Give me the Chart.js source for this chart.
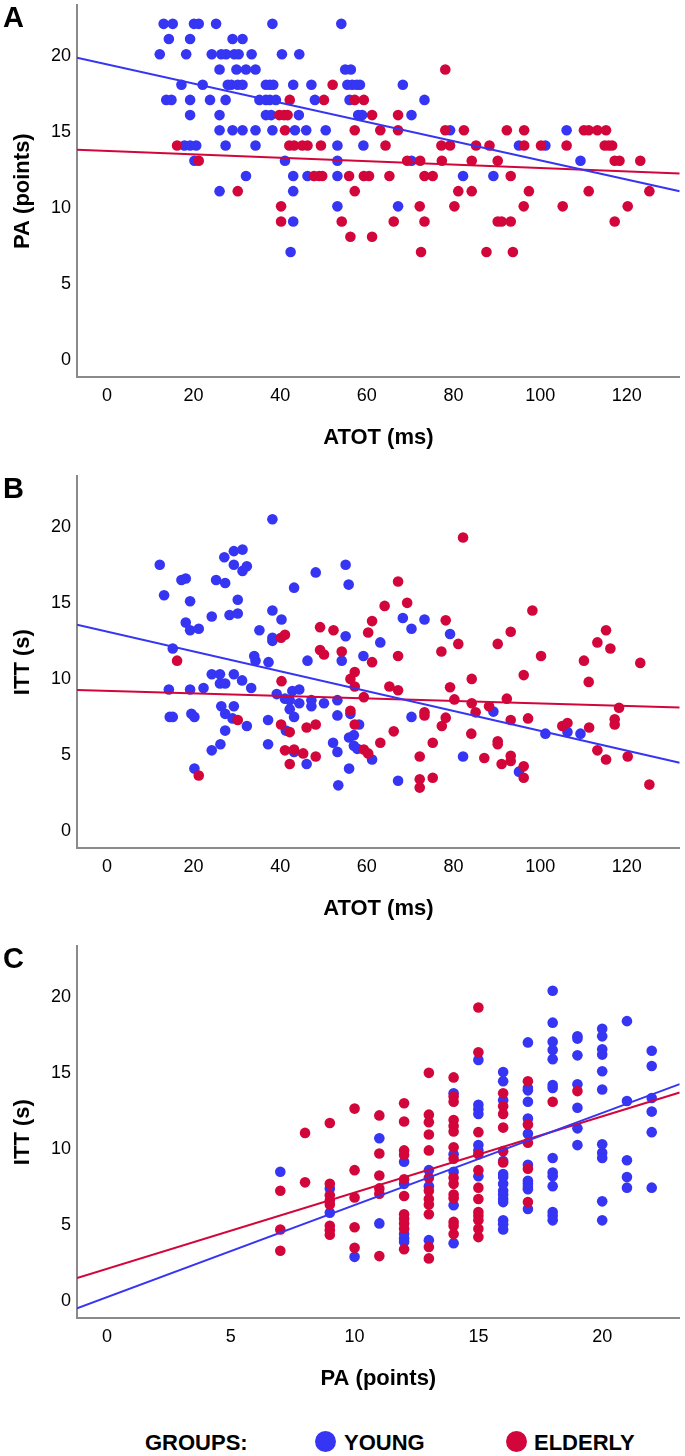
<!DOCTYPE html>
<html>
<head>
<meta charset="utf-8">
<script src="https://cdn.jsdelivr.net/npm/chart.js@4.4.0/dist/chart.umd.min.js"></script>
<style>
  html, body { margin: 0; padding: 0; background: #fff; }
  body { width: 685px; height: 1456px; position: relative; overflow: hidden; font-family: "Liberation Sans", Arial, sans-serif; }
  .panel { position: absolute; left: 0; width: 685px; height: 470px; }
  .letter { position: absolute; left: 3px; top: 3px; font-weight: bold; font-size: 29px; line-height: 29px; color: #000; }
  .lg { position: absolute; top: 1432px; font-weight: bold; font-size: 22px; line-height: 22px; color: #000; white-space: nowrap; }
  .dot { position: absolute; top: 1431px; width: 21px; height: 21px; border-radius: 50%; }
</style>
</head>
<body>
<div class="panel" style="top:0"><canvas id="chartA" width="685" height="470"></canvas><div class="letter">A</div></div>
<div class="panel" style="top:471px"><canvas id="chartB" width="685" height="470"></canvas><div class="letter">B</div></div>
<div class="panel" style="top:941px"><canvas id="chartC" width="685" height="470"></canvas><div class="letter">C</div></div>

<span class="lg" style="left:145px">GROUPS:</span>
<span class="dot" style="left:315px;background:#3535f3"></span>
<span class="lg" style="left:344px">YOUNG</span>
<span class="dot" style="left:506px;background:#d2063b"></span>
<span class="lg" style="left:534px">ELDERLY</span>

<script>
const BLUE = '#3535f3';
const RED = '#d2063b';
const AXIS = '#8a8a8a';
const FONT = '"Liberation Sans", Arial, sans-serif';

// axis ranges and ticks
const atotRange = [-6.9, 132.2];
const paRange = [-1.21, 23.13];
const yRange = [-1.22, 23.22];
const atotTicks = [0, 20, 40, 60, 80, 100, 120];
const paTicks = [0, 5, 10, 15, 20];
const yTicks = [0, 5, 10, 15, 20];

// A: PA vs ATOT
const aYoungX = [
  13.1,15.2,20.1,21.2,25.2,38.2,54.1,
  14.3,19.2,29.0,31.3,
  12.2,18.3,24.2,26.4,27.5,29.4,30.4,33.4,40.4,44.4,
  26.0,29.9,32.1,34.3,55.0,56.3,
  17.2,22.1,27.9,28.7,30.2,31.3,36.7,37.6,38.4,43.0,47.2,55.5,56.6,57.7,58.4,68.3,
  13.7,14.9,19.2,23.8,27.4,35.2,36.7,37.6,39.0,48.0,56.0,73.3,
  19.2,26.0,36.7,37.9,44.3,58.0,58.9,70.3,
  26.0,29.0,31.3,34.3,38.2,43.4,46.0,50.5,79.2,106.1,
  17.9,19.2,20.6,27.4,34.3,53.2,59.2,95.1,101.2,
  20.2,41.1,53.2,70.3,109.3,
  32.1,43.0,46.3,53.2,82.2,89.2,
  26.0,43.0,
  53.2,67.2,
  43.0,
  42.4
];
const aYoungY = [
  22,22,22,22,22,22,22,
  21,21,21,21,
  20,20,20,20,20,20,20,20,20,20,
  19,19,19,19,19,19,
  18,18,18,18,18,18,18,18,18,18,18,18,18,18,18,18,
  17,17,17,17,17,17,17,17,17,17,17,17,
  16,16,16,16,16,16,16,16,
  15,15,15,15,15,15,15,15,15,15,
  14,14,14,14,14,14,14,14,14,
  13,13,13,13,13,
  12,12,12,12,12,12,
  11,11,
  10,10,
  9,
  7
];
const aElderX = [
  78.1,
  52.1,
  42.2,50.1,57.2,59.3,
  39.8,40.9,41.7,61.2,67.2,
  41.1,57.2,63.1,67.2,78.1,82.4,92.3,96.3,110.1,111.2,113.2,115.2,
  16.2,42.1,43.2,45.1,46.3,49.4,64.3,77.2,79.2,85.2,88.3,96.3,100.2,106.1,114.9,115.8,116.6,
  21.2,69.3,72.3,77.3,84.2,90.2,117.2,118.3,123.1,
  47.8,49.0,49.7,55.9,59.3,60.5,65.2,73.3,75.2,93.2,
  30.2,57.2,81.1,84.2,97.4,111.2,125.2,
  40.2,72.2,80.2,96.2,105.2,120.2,
  40.2,54.2,66.2,73.3,90.2,91.1,93.2,117.2,
  56.2,61.2,
  72.5,87.6,93.7
];
const aElderY = [
  19,
  18,
  17,17,17,17,
  16,16,16,16,16,
  15,15,15,15,15,15,15,15,15,15,15,15,
  14,14,14,14,14,14,14,14,14,14,14,14,14,14,14,14,14,
  13,13,13,13,13,13,13,13,13,
  12,12,12,12,12,12,12,12,12,12,
  11,11,11,11,11,11,11,
  10,10,10,10,10,10,
  9,9,9,9,9,9,9,9,
  8,8,
  7,7,7
];

// B: ITT vs ATOT
const bYoungX = [
  12.2,13.2,17.2,18.2,19.2,18.2,19.2,21.2,15.2,24.2,
  25.2,27.3,28.3,30.2,30.2,27.1,29.3,31.3,29.3,31.3,
  32.3,38.2,35.2,38.2,40.3,43.2,38.2,38.2,34.0,34.3,
  37.3,46.3,48.2,55.1,55.8,55.1,54.2,14.3,19.2,22.3,
  24.2,26.1,26.1,27.3,29.3,31.2,33.3,26.4,29.3,39.2,
  41.1,42.2,42.8,44.4,44.4,47.2,47.2,50.1,53.2,14.5,
  15.2,19.5,20.2,27.3,29.0,32.3,27.3,26.2,24.2,20.2,
  37.2,37.2,42.2,43.2,41.3,43.2,46.1,53.2,52.2,53.2,
  53.4,55.9,55.9,56.2,58.2,57.0,57.0,57.8,61.2,70.3,
  67.2,82.2,89.2,101.2,106.3,109.3,95.1,59.2,63.1,68.3,
  70.3,73.3,79.2
];
const bYoungY = [
  17.4,15.4,16.4,16.5,15.0,13.6,13.1,13.2,11.9,14.0,
  16.4,16.2,14.1,14.2,15.1,17.9,18.3,18.4,17.4,17.0,
  17.3,20.4,13.1,14.4,13.8,15.9,12.6,12.4,11.4,11.1,
  11.0,11.1,16.9,17.4,16.1,12.7,11.1,9.2,9.2,9.3,
  10.2,10.2,9.6,9.6,10.2,9.8,9.3,8.1,8.1,8.9,
  8.6,8.5,9.1,9.2,8.3,8.5,8.1,8.3,8.5,7.4,
  7.4,7.6,7.4,7.6,7.3,6.8,6.5,5.6,5.2,4.0,
  7.2,5.6,7.9,7.4,6.5,5.1,4.3,7.5,5.7,5.1,
  2.9,6.05,4.0,7.6,6.9,6.2,5.5,5.3,4.6,7.4,
  3.2,4.8,7.75,6.3,6.4,6.3,3.8,11.4,12.3,13.9,
  13.2,13.8,12.85
];
const bElderX = [
  16.2,40.2,41.1,49.2,52.3,49.2,50.1,54.2,40.3,30.2,
  21.2,40.2,42.2,46.1,48.2,41.1,43.2,45.3,48.2,42.2,
  56.2,57.2,59.3,60.3,63.1,66.2,72.2,72.2,72.2,75.2,
  75.2,73.3,73.3,77.3,78.2,84.1,85.1,90.2,90.2,87.1,
  91.1,93.2,93.2,96.2,96.2,93.2,97.2,105.1,106.3,111.3,
  113.2,115.2,120.2,117.2,117.2,118.2,125.2,56.2,57.2,57.2,
  59.3,60.3,61.2,61.2,64.1,67.2,69.3,67.2,65.2,67.2,
  77.2,78.2,81.1,82.2,79.2,80.2,84.2,84.2,88.2,90.2,
  93.2,92.3,96.2,98.2,100.2,110.1,111.2,113.2,115.2,116.2,
  123.1
];
const bElderY = [
  11.1,12.6,12.8,13.3,13.1,11.8,11.5,11.7,9.75,7.2,
  3.55,6.9,6.4,6.7,6.9,5.2,5.25,5.0,4.8,4.3,
  7.8,6.9,5.25,5.0,5.7,6.45,4.8,3.3,2.75,3.4,
  5.7,7.7,7.5,6.8,7.35,6.3,7.7,5.8,5.6,4.7,
  4.3,4.85,4.5,4.15,3.4,7.2,7.3,6.8,7.0,6.7,
  5.2,4.6,4.8,7.25,6.9,8.0,2.95,9.9,10.35,9.4,
  8.7,12.95,13.7,11.0,14.7,16.3,14.9,11.4,9.4,9.15,
  11.7,13.75,12.2,19.2,9.35,8.55,9.9,8.3,8.1,12.2,
  13.0,8.6,10.15,14.4,11.4,11.1,9.7,12.3,13.1,11.9,
  10.95
];

// C: ITT vs PA
const cYoungX = [
  7, 9,9, 10, 11,11, 12,12,12,12,12, 13,13,13, 14,14,14,14,14,
  15,15,15,15,15,15,15,
  16,16,16,16,16,16,16,16,16,16,16,16,16,16,
  17,17,17,17,17,17,17,17,17,17,17,17,
  18,18,18,18,18,18,18,18,18,18,18,18,18,18,
  19,19,19,19,19,19,19,
  20,20,20,20,20,20,20,20,20,20,20,
  21,21,21,21,21,
  22,22,22,22,22,22
];
const cYoungY = [
  8.4, 7.3,5.7, 2.8, 10.6,5.0, 9.05,7.6,4.3,4.0,3.8, 8.5,7.45,3.9, 13.55,9.55,8.4,6.2,3.7,
  15.75,12.8,12.5,12.2,10.15,9.8,8.1,
  14.95,14.35,13.1,9.1,8.25,8.05,7.6,7.15,6.9,6.6,6.4,5.2,4.95,4.6,
  16.9,13.9,13.75,13.0,11.9,10.9,8.85,7.8,7.6,7.4,7.25,5.95,
  20.3,18.2,16.95,16.4,15.8,14.1,13.9,9.3,8.35,8.1,7.45,5.75,5.5,5.2,
  17.3,17.15,16.05,14.15,12.6,11.25,10.15,
  17.8,17.3,16.45,16.1,15.0,13.8,10.2,9.65,9.3,6.45,5.2,
  18.3,13.05,9.15,8.05,7.35,
  16.35,15.35,13.25,12.35,11.0,7.35
];
const cElderX = [
  7,7,7, 8,8,
  9,9,9,9,9,9,9,9,
  10,10,10,10,10,
  11,11,11,11,11,11,
  12,12,12,12,12,12,12,12,12,12,12,
  13,13,13,13,13,13,13,13,13,13,13,13,
  14,14,14,14,14,14,14,14,14,14,14,14,14,14,14,
  15,15,15,15,15,15,15,15,15,15,15,15,
  16,16,16,16,16,16,
  17,17,17,17,17,
  18, 19
];
const cElderY = [
  7.15,4.6,3.2, 10.95,7.7,
  11.6,7.6,6.85,6.5,6.25,4.85,4.55,4.25,
  12.55,8.5,6.7,4.75,3.4,
  12.1,9.6,8.15,7.3,6.95,2.85,
  12.9,11.7,9.8,9.5,7.9,6.8,5.6,5.3,5.0,4.65,3.3,
  14.9,12.15,11.65,10.85,9.8,8.0,7.15,6.6,6.25,5.6,3.45,2.7,
  14.6,13.35,13.0,11.8,11.4,11.05,10.0,9.25,8.0,7.6,6.9,6.65,5.1,4.85,4.3,
  19.2,16.25,11.0,9.55,8.5,7.35,6.6,5.75,5.5,5.2,4.65,4.1,
  13.55,12.7,12.2,11.3,9.75,9.0,
  14.35,11.5,10.3,8.6,6.4,
  13.0, 13.7
];

// fit lines: y at the left and right ends of the x axis
const fitAYoung = [19.78, 11.0];
const fitAElder = [13.73, 12.16];
const fitBYoung = [13.46, 4.38];
const fitBElder = [9.17, 8.01];
const fitCYoung = [-0.59, 14.16];
const fitCElder = [1.41, 13.61];

Chart.defaults.font.family = FONT;

function makePanel(id, youngX, youngY, elderX, elderY, fitYoung, fitElder, xRange, xTicks, xTitle, yTitle) {
  const pts = (xs, ys) => xs.map((x, i) => ({ x: x, y: ys[i] }));
  const fit = f => [{ x: xRange[0], y: f[0] }, { x: xRange[1], y: f[1] }];
  const lineSet = (label, f, color) => ({
    type: 'line', label: label, data: fit(f), borderColor: color, borderWidth: 2,
    pointRadius: 0, fill: false, order: 0
  });
  const dotSet = (label, d, color, order) => ({
    label: label, data: d, backgroundColor: color, borderWidth: 0,
    pointRadius: 5.3, pointHoverRadius: 5.3, order: order
  });

  new Chart(document.getElementById(id), {
    type: 'scatter',
    data: {
      datasets: [
        lineSet('YOUNG fit', fitYoung, BLUE),
        lineSet('ELDERLY fit', fitElder, RED),
        dotSet('YOUNG', pts(youngX, youngY), BLUE, 2),
        dotSet('ELDERLY', pts(elderX, elderY), RED, 1)
      ]
    },
    options: {
      responsive: false,
      animation: false,
      events: [],
      layout: { padding: { top: 3, right: 3, left: 0, bottom: 0 } },
      plugins: { legend: { display: false }, tooltip: { enabled: false } },
      scales: {
        x: {
          type: 'linear', min: xRange[0], max: xRange[1],
          afterFit: s => { s.height = 93; s.paddingLeft = 0; s.paddingRight = 0; },
          afterBuildTicks: s => { s.ticks = xTicks.map(v => ({ value: v })); },
          grid: { display: false, drawTicks: false },
          border: { display: true, color: AXIS, width: 2 },
          ticks: { color: '#000', font: { size: 18 }, padding: 8, maxRotation: 0 },
          title: { display: true, text: xTitle, color: '#000', font: { size: 22, weight: 'bold' }, padding: { top: 0, bottom: 19 } }
        },
        y: {
          type: 'linear', min: yRange[0], max: yRange[1],
          afterFit: s => { s.width = 77; s.paddingTop = 0; s.paddingBottom = 0; },
          afterBuildTicks: s => { s.ticks = yTicks.map(v => ({ value: v })); },
          grid: { display: false, drawTicks: false },
          border: { display: true, color: AXIS, width: 2 },
          ticks: { color: '#000', font: { size: 18 }, padding: 6, labelOffset: 2 },
          title: { display: true, text: yTitle, color: '#000', font: { size: 22, weight: 'bold' }, padding: { top: 10, bottom: 0 } }
        }
      }
    }
  });
}

makePanel('chartA', aYoungX, aYoungY, aElderX, aElderY, fitAYoung, fitAElder, atotRange, atotTicks, 'ATOT (ms)', 'PA (points)');
makePanel('chartB', bYoungX, bYoungY, bElderX, bElderY, fitBYoung, fitBElder, atotRange, atotTicks, 'ATOT (ms)', 'ITT (s)');
makePanel('chartC', cYoungX, cYoungY, cElderX, cElderY, fitCYoung, fitCElder, paRange, paTicks, 'PA (points)', 'ITT (s)');
</script>
</body>
</html>
